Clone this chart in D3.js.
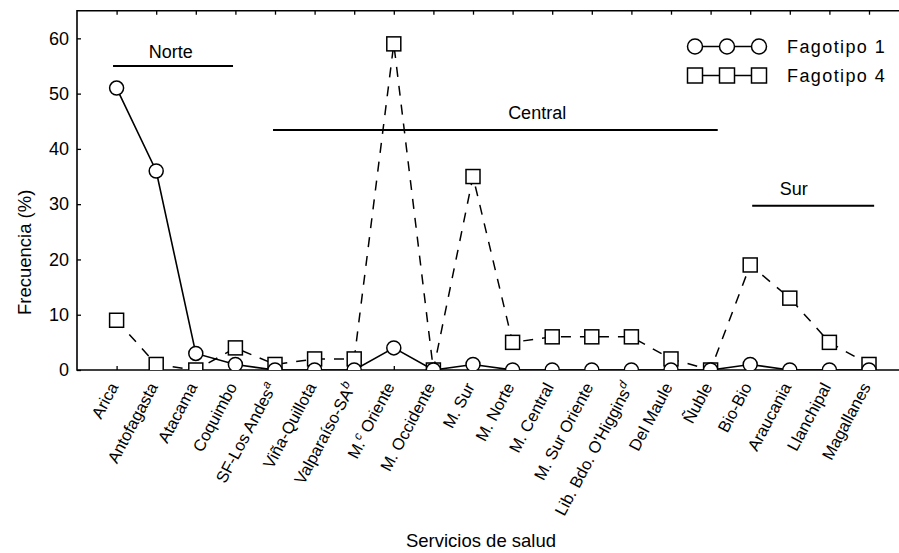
<!DOCTYPE html>
<html lang="es">
<head>
<meta charset="utf-8">
<title>Fagotipos por servicio de salud</title>
<style>
  body { margin: 0; background: #fff; }
  svg { display: block; font-family: Arial, "Liberation Sans", sans-serif; }
  .tick-label { font-size: 18px; fill: #000; }
  .cat-label { font-size: 16.5px; fill: #000; }
  .axis-title { font-size: 18.5px; fill: #000; }
  .region-label { font-size: 18px; fill: #000; }
  .legend-label { font-size: 18px; fill: #000; letter-spacing: 1.4px; }
</style>
</head>
<body>
<svg width="899" height="553"></svg>
<script src="https://d3js.org/d3.v7.min.js"></script>
<script>
  // categories (servicios de salud) and their printed labels [text, superscript, rest]
  const servicios = ["Arica", "Antofagasta", "Atacama", "Coquimbo", "SF-Los Andes", "Viña-Quillota",
    "Valparaíso-SA", "M. Oriente", "M. Occidente", "M. Sur", "M. Norte", "M. Central",
    "M. Sur Oriente", "Lib. Bdo. O'Higgins", "Del Maule", "Ñuble", "Bio-Bio", "Araucania",
    "Llanchipal", "Magallanes"];
  const etiquetas = [["Arica"], ["Antofagasta"], ["Atacama"], ["Coquimbo"], ["SF-Los Andes", "a", ""],
    ["Viña-Quillota"], ["Valparaíso-SA", "b", ""], ["M.", "c", " Oriente"], ["M. Occidente"],
    ["M. Sur"], ["M. Norte"], ["M. Central"], ["M. Sur Oriente"], ["Lib. Bdo. O'Higgins", "d", ""],
    ["Del Maule"], ["Ñuble"], ["Bio-Bio"], ["Araucania"], ["Llanchipal"], ["Magallanes"]];

  // frecuencia (%)
  const fagotipo1 = [51, 36, 3, 1, 0, 0, 0, 4, 0, 1, 0, 0, 0, 0, 0, 0, 1, 0, 0, 0];
  const fagotipo4 = [9, 1, 0, 4, 1, 2, 2, 59, 0, 35, 5, 6, 6, 6, 2, 0, 19, 13, 5, 1];

  const yTicks = [0, 10, 20, 30, 40, 50, 60];

  // regional brackets: start/end in category positions (1 = Arica), level in %
  const regiones = ["Norte", "Central", "Sur"];
  const regionDesde = [0.91, 4.95, 17.05];
  const regionHasta = [3.94, 16.18, 20.13];
  const regionNivel = [55, 43.4, 29.7];
  const regionTextoX = [2.37, 11.62, 18.1];
  const regionTextoY = [56.5, 45.4, 31.6];

  const svg = d3.select("svg");
  const W = +svg.attr("width");
  const mLeft = 77, mTop = 10.7, mBottom = 370, mRight = 908.6;

  const x = d3.scalePoint().domain(servicios).range([mLeft, mRight]).padding(1);
  const step = x.step();
  const pos = v => x(servicios[0]) + (v - 1) * step;
  const y = d3.scaleLinear().domain([0, 65]).range([mBottom, mTop]);

  // clip for the plotting area
  svg.append("defs").append("clipPath").attr("id", "plot")
    .append("rect").attr("x", mLeft).attr("y", mTop).attr("width", mRight - mLeft).attr("height", mBottom - mTop);

  // axes
  const yAxis = svg.append("g").attr("transform", `translate(${mLeft},0)`)
    .call(d3.axisLeft(y).tickValues(yTicks).tickSizeInner(-4).tickSizeOuter(0).tickPadding(8));
  yAxis.select(".domain").remove();
  yAxis.selectAll("line").attr("stroke-width", 1.3);
  yAxis.attr("font-size", null).attr("font-family", null);
  yAxis.selectAll("text").attr("class", "tick-label");

  const xAxis = svg.append("g").attr("transform", `translate(0,${mBottom})`)
    .call(d3.axisBottom(x).tickSizeInner(-4).tickSizeOuter(0).tickFormat(""));
  xAxis.select(".domain").remove();
  xAxis.selectAll("line").attr("stroke-width", 1.3);

  const xTop = svg.append("g").attr("transform", `translate(0,${mTop})`)
    .call(d3.axisTop(x).tickSizeInner(-4).tickSizeOuter(0).tickFormat(""));
  xTop.select(".domain").remove();
  xTop.selectAll("line").attr("stroke-width", 1.3);

  // frame
  svg.append("path")
    .attr("d", `M${W},${mTop}H${mLeft}V${mBottom}H${W}`)
    .attr("fill", "none").attr("stroke", "#000").attr("stroke-width", 1.6);

  // rotated category labels
  const lab = svg.append("g").selectAll("text").data(servicios).join("text")
    .attr("class", "cat-label")
    .attr("text-anchor", "end")
    .attr("transform", d => `translate(${x(d) - 3},${mBottom + 14}) rotate(-62)`)
    .attr("dy", "0.35em");
  lab.each(function(d, i) {
    const p = etiquetas[i];
    const t = d3.select(this);
    t.append("tspan").text(p[0]);
    if (p.length > 1) {
      t.append("tspan").attr("font-size", 12).attr("font-style", "italic")
        .attr("dy", "-0.55em").text(p[1]);
      if (p[2]) t.append("tspan").attr("dy", "0.35em").text(p[2]);
    }
  });

  // axis titles
  svg.append("text").attr("class", "axis-title").attr("text-anchor", "middle")
    .attr("x", 481).attr("y", 547).text("Servicios de salud");
  svg.append("text").attr("class", "axis-title").attr("text-anchor", "middle")
    .attr("transform", `translate(31,${(mTop + mBottom) / 2 + 62}) rotate(-90)`)
    .text("Frecuencia (%)");

  // region brackets
  const reg = svg.append("g");
  regiones.forEach((r, i) => {
    reg.append("line")
      .attr("x1", pos(regionDesde[i])).attr("x2", pos(regionHasta[i]))
      .attr("y1", y(regionNivel[i])).attr("y2", y(regionNivel[i]))
      .attr("stroke", "#000").attr("stroke-width", 2);
    reg.append("text").attr("class", "region-label").attr("text-anchor", "middle")
      .attr("x", pos(regionTextoX[i])).attr("y", y(regionTextoY[i])).text(r);
  });

  // series
  const plot = svg.append("g").attr("clip-path", "url(#plot)");
  const line = d3.line().x((d, i) => x(servicios[i])).y(d => y(d));

  plot.append("path").datum(fagotipo4)
    .attr("d", line).attr("fill", "none").attr("stroke", "#000")
    .attr("stroke-width", 1.5).attr("stroke-dasharray", "10,9");
  plot.append("path").datum(fagotipo1)
    .attr("d", line).attr("fill", "none").attr("stroke", "#000").attr("stroke-width", 1.6);

  const s = 14;
  plot.selectAll("rect.f4").data(fagotipo4).join("rect").attr("class", "f4")
    .attr("x", (d, i) => x(servicios[i]) - s / 2).attr("y", d => y(d) - s / 2)
    .attr("width", s).attr("height", s)
    .attr("fill", "#fff").attr("stroke", "#000").attr("stroke-width", 1.5);
  plot.selectAll("circle.f1").data(fagotipo1).join("circle").attr("class", "f1")
    .attr("cx", (d, i) => x(servicios[i])).attr("cy", d => y(d)).attr("r", 7)
    .attr("fill", "#fff").attr("stroke", "#000").attr("stroke-width", 1.5);

  // legend
  const lg = svg.append("g");
  const lx = [695, 727, 759];
  [["circle", 46.5, "Fagotipo 1"], ["square", 75.5, "Fagotipo 4"]].forEach(([kind, ly, name]) => {
    lg.append("line").attr("x1", lx[0]).attr("x2", lx[2]).attr("y1", ly).attr("y2", ly)
      .attr("stroke", "#000").attr("stroke-width", 1.3);
    lx.forEach(cx => {
      if (kind === "circle") {
        lg.append("circle").attr("cx", cx).attr("cy", ly).attr("r", 7.5)
          .attr("fill", "#fff").attr("stroke", "#000").attr("stroke-width", 1.5);
      } else {
        lg.append("rect").attr("x", cx - 7.5).attr("y", ly - 7.5).attr("width", 15).attr("height", 15)
          .attr("fill", "#fff").attr("stroke", "#000").attr("stroke-width", 1.5);
      }
    });
    lg.append("text").attr("class", "legend-label").attr("x", 787).attr("y", ly + 6.5).text(name);
  });
</script>
</body>
</html>
